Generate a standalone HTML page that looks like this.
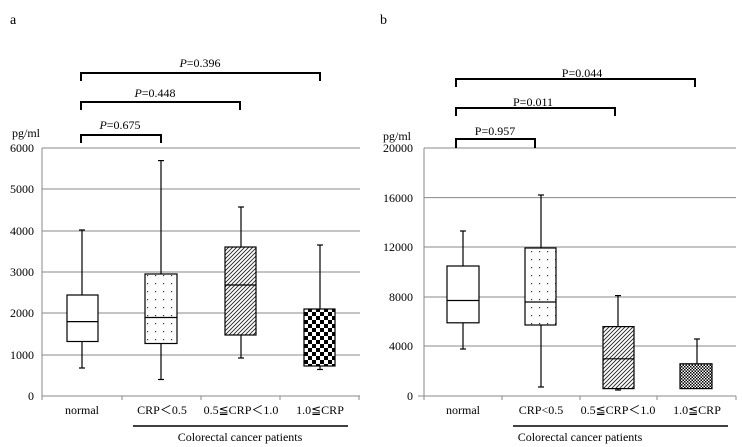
<!DOCTYPE html>
<html><head><meta charset="utf-8"><style>
html,body{margin:0;padding:0;background:#fff}
svg{display:block}
text{font-family:"Liberation Serif",serif;fill:#000}
</style></head><body>
<svg width="742" height="447" viewBox="0 0 742 447" xmlns="http://www.w3.org/2000/svg">
<defs>
<pattern id="dots" width="8" height="8" patternUnits="userSpaceOnUse"><rect width="8" height="8" fill="#fff"/><rect x="3" y="3" width="1.2" height="1.2" fill="#333"/></pattern>
<pattern id="hatch" width="4" height="4" patternUnits="userSpaceOnUse"><rect width="4" height="4" fill="#fff"/><path d="M-1,5 L5,-1 M-1,1 L1,-1 M3,5 L5,3" stroke="#222" stroke-width="0.9"/></pattern>
<pattern id="check" width="8" height="8" patternUnits="userSpaceOnUse"><rect width="8" height="8" fill="#fff"/><rect width="4" height="4" fill="#000"/><rect x="4" y="4" width="4" height="4" fill="#000"/></pattern>
<pattern id="check2" width="3" height="3" patternUnits="userSpaceOnUse"><rect width="3" height="3" fill="#fff"/><rect width="1.5" height="1.5" fill="#000"/><rect x="1.5" y="1.5" width="1.5" height="1.5" fill="#000"/></pattern>
</defs>

<text x="10" y="24" font-size="14">a</text>
<text x="380" y="24" font-size="14">b</text>

<!-- LEFT CHART -->
<g stroke="#888" stroke-width="1">
<line x1="42" y1="148" x2="360" y2="148"/><line x1="42" y1="189" x2="360" y2="189"/><line x1="42" y1="231" x2="360" y2="231"/><line x1="42" y1="272" x2="360" y2="272"/><line x1="42" y1="313" x2="360" y2="313"/><line x1="42" y1="355" x2="360" y2="355"/><line x1="42" y1="396" x2="360" y2="396"/>
<line x1="42" y1="148" x2="42" y2="396"/>
<line x1="122" y1="396" x2="122" y2="400"/><line x1="201" y1="396" x2="201" y2="400"/><line x1="280" y1="396" x2="280" y2="400"/><line x1="359" y1="396" x2="359" y2="400"/><line x1="42" y1="396" x2="42" y2="400"/>
</g>
<g font-size="12" text-anchor="end">
<text x="34" y="152">6000</text><text x="34" y="193">5000</text><text x="34" y="235">4000</text><text x="34" y="276">3000</text><text x="34" y="317">2000</text><text x="34" y="359">1000</text><text x="34" y="400">0</text>
</g>
<text x="12" y="137" font-size="12">pg/ml</text>
<g stroke="#000" stroke-width="1.2" fill="none">
<line x1="82" y1="230" x2="82" y2="368"/><line x1="79" y1="230" x2="85" y2="230"/><line x1="79" y1="368" x2="85" y2="368"/>
<rect x="67" y="295" width="31" height="46.5" fill="#fff"/><line x1="67" y1="321.6" x2="98" y2="321.6"/>
<line x1="161" y1="160.6" x2="161" y2="379.5"/><line x1="158" y1="160.6" x2="164" y2="160.6"/><line x1="158" y1="379.5" x2="164" y2="379.5"/>
<rect x="145" y="274" width="32" height="69.5" fill="url(#dots)"/><line x1="145" y1="317.5" x2="177" y2="317.5"/>
<line x1="241" y1="207" x2="241" y2="358"/><line x1="238" y1="207" x2="244" y2="207"/><line x1="238" y1="358" x2="244" y2="358"/>
<rect x="225" y="247" width="31" height="88" fill="url(#hatch)"/><line x1="225" y1="285" x2="256" y2="285"/>
<line x1="320" y1="245" x2="320" y2="369.5"/><line x1="317" y1="245" x2="323" y2="245"/><line x1="317" y1="369.5" x2="323" y2="369.5"/>
<rect x="304" y="309" width="31" height="57" fill="url(#check)"/>
</g>
<g stroke="#000" stroke-width="2" fill="none">
<path d="M81,81 V73 H320 V81"/><path d="M81,110 V102 H240 V110"/><path d="M81,143 V135 H161 V143"/>
</g>
<g font-size="12" text-anchor="middle">
<text x="200" y="67"><tspan font-style="italic">P</tspan>=0.396</text>
<text x="155" y="97"><tspan font-style="italic">P</tspan>=0.448</text>
<text x="120" y="129"><tspan font-style="italic">P</tspan>=0.675</text>
</g>
<g font-size="12" text-anchor="middle">
<text x="82" y="414">normal</text>
<text x="162" y="414" font-family="Liberation Serif,'Noto Serif CJK SC',serif">CRP＜0.5</text>
<text x="241" y="414" font-family="Liberation Serif,'Noto Serif CJK SC',serif">0.5≦CRP＜1.0</text>
<text x="320" y="414" font-family="Liberation Serif,'Noto Serif CJK SC',serif">1.0≦CRP</text>
<text x="240" y="441">Colorectal cancer patients</text>
</g>
<line x1="133" y1="426" x2="348" y2="426" stroke="#000" stroke-width="1.5"/>

<!-- RIGHT CHART -->
<g stroke="#888" stroke-width="1">
<line x1="424" y1="148" x2="736" y2="148"/><line x1="424" y1="197.6" x2="736" y2="197.6"/><line x1="424" y1="247" x2="736" y2="247"/><line x1="424" y1="297" x2="736" y2="297"/><line x1="424" y1="346" x2="736" y2="346"/><line x1="424" y1="396" x2="736" y2="396"/>
<line x1="424" y1="148" x2="424" y2="400"/>
<line x1="502" y1="396" x2="502" y2="400"/><line x1="580" y1="396" x2="580" y2="400"/><line x1="657" y1="396" x2="657" y2="400"/><line x1="736" y1="396" x2="736" y2="400"/><line x1="418" y1="396" x2="424" y2="396"/>
</g>
<g font-size="12" text-anchor="end">
<text x="413" y="152">20000</text><text x="413" y="202">16000</text><text x="413" y="251">12000</text><text x="413" y="301">8000</text><text x="413" y="350">4000</text><text x="413" y="400">0</text>
</g>
<text x="383" y="140" font-size="12">pg/ml</text>
<g stroke="#000" stroke-width="1.2" fill="none">
<line x1="463" y1="231" x2="463" y2="349"/><line x1="460" y1="231" x2="466" y2="231"/><line x1="460" y1="349" x2="466" y2="349"/>
<rect x="447" y="266" width="32" height="56.8" fill="#fff"/><line x1="447" y1="300.5" x2="479" y2="300.5"/>
<line x1="541" y1="195" x2="541" y2="387"/><line x1="538" y1="195" x2="544" y2="195"/><line x1="538" y1="387" x2="544" y2="387"/>
<rect x="525" y="248" width="31" height="77" fill="url(#dots)"/><line x1="525" y1="302" x2="556" y2="302"/>
<line x1="618" y1="295.6" x2="618" y2="390"/><line x1="615" y1="295.6" x2="621" y2="295.6"/><line x1="615" y1="390" x2="621" y2="390"/>
<rect x="603" y="326.6" width="31" height="62" fill="url(#hatch)"/><line x1="603" y1="358.8" x2="634" y2="358.8"/>
<line x1="697" y1="339" x2="697" y2="364"/><line x1="694" y1="339" x2="700" y2="339"/>
<rect x="680" y="363.8" width="32" height="24.8" fill="url(#check2)"/>
</g>
<g stroke="#000" stroke-width="2" fill="none">
<path d="M456,87 V79 H695 V87"/><path d="M456,116 V108 H615 V116"/><path d="M456,148 V139 H535 V148"/>
</g>
<g font-size="12" text-anchor="middle">
<text x="582" y="77">P=0.044</text>
<text x="533" y="106">P=0.011</text>
<text x="495" y="135">P=0.957</text>
</g>
<g font-size="12" text-anchor="middle">
<text x="463" y="414">normal</text>
<text x="541" y="414">CRP&lt;0.5</text>
<text x="618" y="414" font-family="Liberation Serif,'Noto Serif CJK SC',serif">0.5≦CRP＜1.0</text>
<text x="697" y="414" font-family="Liberation Serif,'Noto Serif CJK SC',serif">1.0≦CRP</text>
<text x="580" y="441">Colorectal cancer patients</text>
</g>
<line x1="513" y1="426" x2="728" y2="426" stroke="#000" stroke-width="1.5"/>
</svg>
</body></html>
